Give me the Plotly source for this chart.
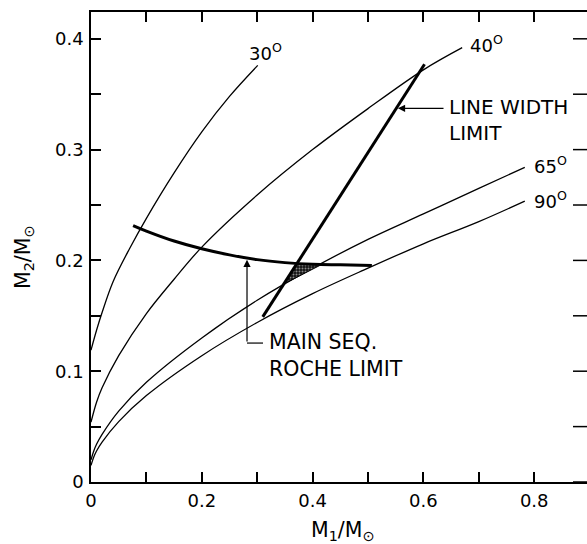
import plotly.graph_objects as go

# ---- data ----
x_30 = [0.0, 0.01, 0.02, 0.04, 0.07, 0.10, 0.15, 0.20, 0.25, 0.301]
y_30 = [0.119, 0.137, 0.153, 0.181, 0.211, 0.238, 0.279, 0.316, 0.348, 0.376]

x_40 = [0.0, 0.01, 0.02, 0.05, 0.10, 0.15, 0.20, 0.30, 0.40, 0.50, 0.60, 0.67]
y_40 = [0.054, 0.072, 0.085, 0.114, 0.152, 0.183, 0.212, 0.259, 0.300, 0.337, 0.372, 0.392]

x_65 = [0.0, 0.005, 0.01, 0.02, 0.05, 0.10, 0.20, 0.30, 0.40, 0.50, 0.60, 0.70, 0.783]
y_65 = [0.020, 0.028, 0.034, 0.043, 0.064, 0.090, 0.130, 0.164, 0.193, 0.219, 0.242, 0.265, 0.284]

x_90 = [0.0, 0.005, 0.01, 0.02, 0.05, 0.10, 0.20, 0.30, 0.40, 0.50, 0.60, 0.70, 0.783]
y_90 = [0.015, 0.0226, 0.028, 0.036, 0.0545, 0.078, 0.114, 0.144, 0.170, 0.193, 0.215, 0.235, 0.2535]

x_roche = [0.076, 0.10, 0.15, 0.20, 0.25, 0.30, 0.35, 0.40, 0.45, 0.507]
y_roche = [0.2315, 0.2265, 0.2175, 0.2105, 0.2050, 0.2007, 0.1980, 0.1965, 0.1960, 0.1955]

x_linewidth = [0.310, 0.602]
y_linewidth = [0.149, 0.377]

x_shade = [0.349, 0.370, 0.416, 0.380, 0.349]
y_shade = [0.179, 0.1965, 0.1962, 0.187, 0.179]

x_tick_vals = [0.0, 0.1, 0.2, 0.3, 0.4, 0.5, 0.6, 0.7, 0.8]
x_tick_text = ["0", "", "0.2", "", "0.4", "", "0.6", "", "0.8"]
y_tick_vals = [0.0, 0.05, 0.1, 0.15, 0.2, 0.25, 0.3, 0.35, 0.4]
y_tick_text = ["0", "", "0.1", "", "0.2", "", "0.3", "", "0.4"]

curve_labels = ["30<sup>O</sup>", "40<sup>O</sup>", "65<sup>O</sup>", "90<sup>O</sup>"]
curve_label_x = [0.2816, 0.681, 0.7955, 0.7955]
curve_label_y = [0.388, 0.395, 0.2858, 0.2542]

FONT = "DejaVu Sans"

W, H = 587, 544
L, R, T, B = 91, 0, 12, 62
pw, ph = W - L - R, H - T - B
x_max = pw / 554.0
y_max = 0.4242

fig = go.Figure()

thin = dict(color="black", width=1.3, shape="spline")
for xs, ys in [(x_30, y_30), (x_40, y_40), (x_65, y_65), (x_90, y_90)]:
    fig.add_trace(go.Scatter(x=xs, y=ys, mode="lines", line=thin, hoverinfo="skip"))

fig.add_trace(go.Scatter(
    x=x_shade, y=y_shade, mode="lines", fill="toself",
    line=dict(color="black", width=1),
    fillcolor="#222",
    fillpattern=dict(shape=".", fgcolor="white", bgcolor="#111", size=3, solidity=0.35),
    hoverinfo="skip"))

fig.add_trace(go.Scatter(x=x_roche, y=y_roche, mode="lines",
                         line=dict(color="black", width=3, shape="spline"), hoverinfo="skip"))
fig.add_trace(go.Scatter(x=x_linewidth, y=y_linewidth, mode="lines",
                         line=dict(color="black", width=3), hoverinfo="skip"))

# inward tick marks along the (cropped) right-hand frame edge
fig.add_trace(go.Scatter(x=[x_max] * len(y_tick_vals), y=y_tick_vals, mode="markers",
                         marker=dict(symbol="line-ew", size=20, color="black",
                                     line=dict(width=1.5, color="black")),
                         cliponaxis=True, hoverinfo="skip"))

annotations = []
for t, xx, yy in zip(curve_labels, curve_label_x, curve_label_y):
    annotations.append(dict(x=xx, y=yy, xref="x", yref="y", text=t, showarrow=False,
                            xanchor="left", yanchor="middle",
                            font=dict(family=FONT, size=18, color="black")))

# LINE WIDTH LIMIT label and arrow
annotations.append(dict(x=0.642, y=0.3264, xref="x", yref="y", text="LINE WIDTH<br>LIMIT",
                        showarrow=False, xanchor="left", yanchor="middle", align="left",
                        font=dict(family=FONT, size=20, color="black")))
annotations.append(dict(x=0.554, y=0.3373, ax=0.639, ay=0.3373, xref="x", yref="y",
                        axref="x", ayref="y", text="", showarrow=True, arrowhead=2,
                        arrowsize=1.2, arrowwidth=1.2, arrowcolor="black"))

# MAIN SEQ. ROCHE LIMIT label and bracket arrow
annotations.append(dict(x=0.3177, y=0.1143, xref="x", yref="y", text="MAIN SEQ.<br>ROCHE LIMIT",
                        showarrow=False, xanchor="left", yanchor="middle", align="left",
                        font=dict(family=FONT, size=20.5, color="black")))
annotations.append(dict(x=0.2816, y=0.2005, ax=0.2816, ay=0.1254, xref="x", yref="y",
                        axref="x", ayref="y", text="", showarrow=True, arrowhead=2,
                        arrowsize=1.2, arrowwidth=1.2, arrowcolor="black"))

# axis titles (positioned in pixel terms through paper coordinates)
annotations.append(dict(x=(342 - L) / pw, y=(H - B - 531) / ph, xref="paper", yref="paper",
                        xanchor="center", yanchor="middle",
                        text="M<sub>1</sub>/M<sub>⊙</sub>", showarrow=False,
                        font=dict(family=FONT, size=20.5, color="black")))
annotations.append(dict(x=(24 - L) / pw, y=(H - B - 258) / ph, xref="paper", yref="paper",
                        xanchor="center", yanchor="middle",
                        text="M<sub>2</sub>/M<sub>⊙</sub>", textangle=-90, showarrow=False,
                        font=dict(family=FONT, size=20.5, color="black")))

fig.update_layout(
    width=W, height=H,
    margin=dict(l=L, r=R, t=T, b=B, autoexpand=False),
    plot_bgcolor="white", paper_bgcolor="white",
    showlegend=False,
    shapes=[dict(type="line", xref="x", yref="y", x0=0.2816, y0=0.1254, x1=0.3105, y1=0.1254,
                 line=dict(color="black", width=1.2))],
    annotations=annotations,
)

axis_common = dict(
    ticks="inside", ticklen=10, tickwidth=1.5, tickcolor="black",
    showgrid=False, zeroline=False, ticklabelstandoff=2,
    showline=True, linewidth=1.5, linecolor="black",
    tickfont=dict(family=FONT, size=18, color="black"),
)
fig.update_xaxes(range=[0, x_max], tickmode="array", tickvals=x_tick_vals,
                 ticktext=x_tick_text, mirror="ticks", **axis_common)
fig.update_yaxes(range=[0, y_max], tickmode="array", tickvals=y_tick_vals,
                 ticktext=y_tick_text, mirror=False, **axis_common)

fig.write_html("out.html", config={"displayModeBar": False},
               post_script="document.body.style.margin='0px';document.body.style.overflow='hidden';")
